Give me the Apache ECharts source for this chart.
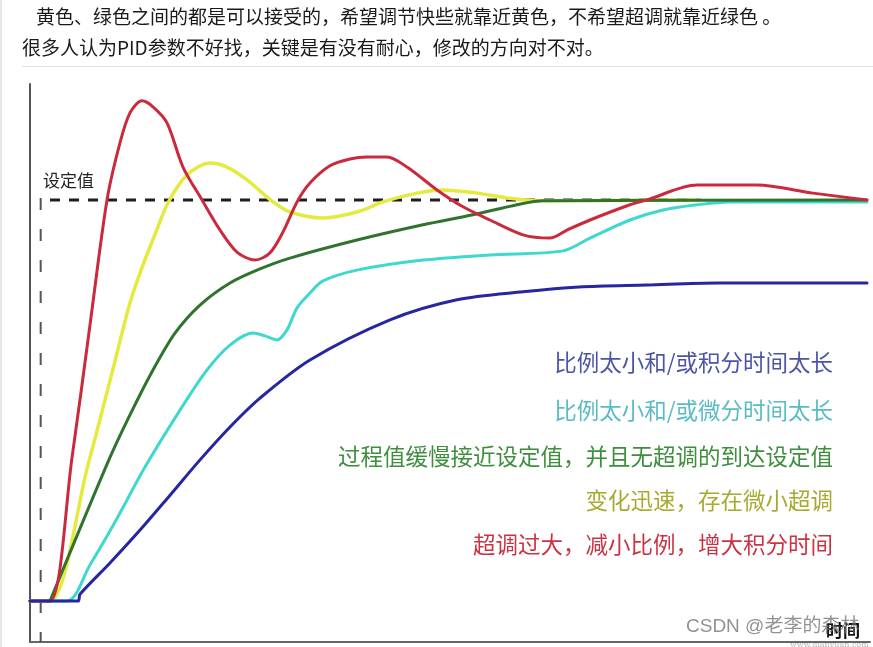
<!DOCTYPE html>
<html><head><meta charset="utf-8">
<script src="https://cdn.jsdelivr.net/npm/echarts@6/dist/echarts.min.js"></script>
<style>html,body{margin:0;padding:0;background:#fff}#c{width:873px;height:647px}</style>
</head><body><div id="c"></div>
<script>
// ---- texts ----
const introLines = [
  '黄色、绿色之间的都是可以接受的，希望调节快些就靠近黄色，不希望超调就靠近绿色 。',
  '很多人认为PID参数不好找，关键是有没有耐心，修改的方向对不对。'
];
const setpointLabel = '设定值';
const timeAxisName = '时间';
const annotations = [
  '比例太小和/或积分时间太长',
  '比例太小和/或微分时间太长',
  '过程值缓慢接近设定值，并且无超调的到达设定值',
  '变化迅速，存在微小超调',
  '超调过大，减小比例，增大积分时间'
];
const watermark = 'CSDN @老李的森林';
const sourceNote = 'www.dianyuan.com';

// ---- data (time, value; setpoint = 1) ----
const setpoint = 1;
const setpointSpan = [2.38, 79.8];
const stepTime = 1.27;
const stepMarkTop = 1.005;

const redData = [
  [0,0],[2.38,0],[5.0,0.357],[7.14,0.688],[9.17,1.0],
  [10.71,1.142],[11.9,1.217],[13.33,1.247],[14.64,1.232],[16.31,1.192],[18.21,1.082],
  [20.48,1.0],[22.62,0.925],[24.64,0.870],[26.79,0.850],[28.57,0.868],[30.12,0.920],
  [31.79,0.995],[33.33,1.042],[35.71,1.085],[38.1,1.102],[40.12,1.107],[42.5,1.107],
  [44.88,1.082],[48.45,1.025],
  [51.55,0.983],[54.76,0.950],[58.69,0.913],[61.9,0.905],[63.93,0.925],[66.67,0.950],
  [71.43,0.988],[73.45,1.0],[79.4,1.037],[86.55,1.037],[93.21,1.017],[99.64,1.0]
];
const yellowData = [
  [0,0],[2.38,0],[6.9,0.339],[9.76,0.569],[11.9,0.743],[13.45,0.838],[15.0,0.920],
  [16.43,0.993],[18.69,1.062],[21.43,1.092],[23.45,1.082],[25.83,1.050],[28.93,0.995],
  [30.95,0.970],[34.88,0.955],[38.93,0.970],[42.02,0.995],[46.07,1.017],[49.17,1.025],
  [53.21,1.017],[56.79,1.005],[60.36,0.998],[79.76,1.0]
];
const greenData = [
  [2.38,0],[9.29,0.347],[11.9,0.464],[14.64,0.576],[17.26,0.668],[20.24,0.738],
  [23.81,0.793],[27.38,0.828],[30.95,0.855],[38.93,0.900],[46.79,0.938],[52.74,0.963],
  [57.98,0.988],[61.07,0.998],[99.64,1.0]
];
const cyanData = [
  [0,0],[4.4,0],[7.14,0.090],[10.12,0.197],[13.69,0.334],[17.86,0.476],[21.07,0.576],
  [23.81,0.638],[26.55,0.668],[27.98,0.661],[29.4,0.651],[30.6,0.676],[31.79,0.731],
  [33.33,0.768],[34.88,0.798],[38.93,0.825],[46.79,0.850],[54.76,0.863],[63.45,0.873],
  [66.67,0.905],[71.43,0.950],[75.36,0.975],[79.4,0.988],[83.33,0.995],[99.64,0.995]
];
const blueData = [
  [0,0],[5.71,0],[5.95,0.017],[9.52,0.095],[13.1,0.177],[16.67,0.264],[20.24,0.352],
  [23.81,0.434],[27.38,0.506],[33.33,0.601],[42.86,0.701],[50.83,0.751],[58.69,0.771],
  [65.38,0.783],[73.45,0.788],[81.79,0.793],[99.64,0.793]
];

// ---- chart ----
const chart = echarts.init(document.getElementById('c'), null, {renderer: 'canvas'});
const CJK = '"Noto Sans CJK SC", "Noto Sans", sans-serif';

function curve(name, data, color, width, z) {
  return {
    name, type: 'line', data, smooth: 0.3, showSymbol: false,
    symbol: 'none', z, silent: true, animation: false,
    lineStyle: {color, width, cap: 'round', join: 'round'}
  };
}

const annY = [362, 410, 456, 500, 544];
const annColors = ['#4b55a8', '#58bcc4', '#3d8e3d', '#a8aa30', '#cc3342'];

const graphics = [
  {type: 'rect', shape: {x: 0, y: 0, width: 2, height: 647}, style: {fill: '#e6e6e6'}, silent: true},
  {type: 'line', shape: {x1: 22, y1: 66.5, x2: 873, y2: 66.5}, style: {stroke: '#e2e2e2', lineWidth: 1}, silent: true},
  {type: 'text', x: 36, y: 17, style: {text: introLines[0], font: '19px ' + CJK, fill: '#1a1a1a', align: 'left', verticalAlign: 'middle'}},
  {type: 'text', x: 22, y: 48, style: {text: introLines[1], font: '19px ' + CJK, fill: '#1a1a1a', align: 'left', verticalAlign: 'middle'}},
  {type: 'text', x: 43, y: 181, style: {text: setpointLabel, font: '17px ' + CJK, fill: '#222', align: 'left', verticalAlign: 'middle'}}
];
annotations.forEach((t, i) => {
  graphics.push({type: 'text', x: 833, y: annY[i], style: {text: t, font: '22.5px ' + CJK, fill: annColors[i], align: 'right', verticalAlign: 'middle'}});
});
graphics.push({type: 'text', x: 686, y: 627, z: 100, style: {text: watermark, font: '19px "Liberation Sans", ' + CJK, fill: 'rgba(110,110,110,0.75)', align: 'left', verticalAlign: 'middle'}});
graphics.push({type: 'text', x: 790, y: 645, style: {text: sourceNote, font: '8px "DejaVu Serif", serif', fill: '#b5b5b5', align: 'left', verticalAlign: 'middle'}});

chart.setOption({
  animation: false,
  backgroundColor: '#fff',
  grid: {left: 30, right: 3, top: 84, bottom: 5, containLabel: false},
  xAxis: {
    type: 'value', min: 0, max: 100,
    axisLine: {show: true, onZero: false, lineStyle: {color: '#666', width: 2}},
    axisTick: {show: false}, axisLabel: {show: false}, splitLine: {show: false},
    name: timeAxisName, nameLocation: 'end', nameGap: -10,
    nameTextStyle: {fontFamily: CJK, fontSize: 17, fontWeight: 'bold', color: '#111', align: 'right', verticalAlign: 'bottom', padding: [0, 0, 3, 0]}
  },
  yAxis: {
    type: 'value', min: -0.102, max: 1.289,
    axisLine: {show: true, onZero: false, lineStyle: {color: '#555', width: 2}},
    axisTick: {show: false}, axisLabel: {show: false}, splitLine: {show: false}
  },
  graphic: graphics,
  series: [
    {
      name: 'setpoint', type: 'line', data: [[setpointSpan[0], setpoint], [setpointSpan[1], setpoint]],
      showSymbol: false, symbol: 'none', z: 1, silent: true,
      lineStyle: {color: '#1e1e1e', width: 3, type: [10, 9]}
    },
    {
      name: 'step', type: 'line', data: [[stepTime, stepMarkTop], [stepTime, -0.102]],
      showSymbol: false, symbol: 'none', z: 1, silent: true,
      lineStyle: {color: '#555', width: 2, type: [12, 19]}
    },
    curve('yellow', yellowData, '#e4ea3e', 3.5, 2),
    curve('cyan', cyanData, '#3fd8cf', 3, 3),
    curve('green', greenData, '#2f732f', 3, 4),
    curve('red', redData, '#c92a3c', 3, 5),
    curve('blue', blueData, '#2626a0', 3, 6)
  ]
});
</script></body></html>
